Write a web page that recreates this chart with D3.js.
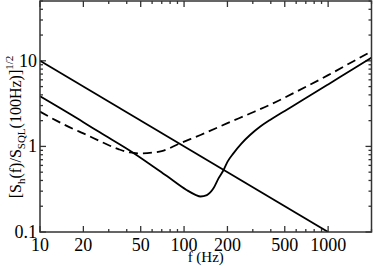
<!DOCTYPE html>
<html>
<head>
<meta charset="utf-8">
<script src="https://cdn.jsdelivr.net/npm/d3@7"></script>
<style>
  body { margin: 0; background: #fff; }
  svg { display: block; font-family: "Liberation Serif", "DejaVu Serif", serif; }
</style>
</head>
<body>
<svg id="chart" width="374" height="266"></svg>
<script>
// values: [f (Hz), amplitude]
var sql_line = [[10, 10], [1000, 0.1]];

var dip_f = [10, 20, 26, 44.5, 76, 104, 120, 130, 144, 152, 160, 173, 188, 200, 220, 250, 287, 340, 395, 500, 640, 1000, 1500, 2000];
var dip_v = [3.85, 1.92, 1.46, 0.84, 0.45, 0.31, 0.272, 0.26, 0.27, 0.29, 0.324, 0.42, 0.53, 0.66, 0.83, 1.08, 1.36, 1.72, 2.04, 2.6, 3.34, 5.3, 8.1, 10.9];

var dash_f = [10, 13, 17, 20, 27, 35, 42, 50, 60, 70, 94, 130, 200, 290, 400, 600, 1000, 1500, 2000];
var dash_v = [2.55, 2.0, 1.6, 1.42, 1.12, 0.93, 0.85, 0.83, 0.845, 0.88, 1.09, 1.36, 1.87, 2.44, 3.1, 4.35, 6.8, 9.9, 12.9];

var x_ticks = [10, 20, 50, 100, 200, 500, 1000];
var y_ticks = [0.1, 1, 10];

draw_chart();

function draw_chart(){
    var padding = {top: 1, left: 40, right: 2.5, bottom: 34};
    var width = 374, height = 266;
    var svg = d3.select('#chart');

    var x_scale = d3.scaleLog()
        .domain([10, 2000])
        .range([padding.left, width - padding.right]);
    var y_scale = d3.scaleLog()
        .domain([0.1, 50])
        .range([height - padding.bottom, padding.top]);

    var x0 = padding.left, x1 = width - padding.right;
    var y0 = height - padding.bottom, y1 = padding.top;

    // minor ticks: 2..9 in each decade
    var x_minor = [], y_minor = [];
    [10, 100, 1000].forEach(function(d){
        for (var k = 2; k < 10; k++) {
            var v = d * k;
            if (v <= 2000 && x_ticks.indexOf(v) < 0) x_minor.push(v);
        }
    });
    [0.1, 1, 10].forEach(function(d){
        for (var k = 2; k < 10; k++) {
            var v = +(d * k).toFixed(3);
            if (v <= 50) y_minor.push(v);
        }
    });

    var axis_color = '#333';
    var ticks = svg.append('g').attr('stroke', axis_color).attr('stroke-width', 1.3);

    function x_tick(v, len){
        var x = x_scale(v);
        ticks.append('line').attr('x1', x).attr('x2', x).attr('y1', y0).attr('y2', y0 - len);
        ticks.append('line').attr('x1', x).attr('x2', x).attr('y1', y1).attr('y2', y1 + len);
    }
    function y_tick(v, len){
        var y = y_scale(v);
        ticks.append('line').attr('x1', x0).attr('x2', x0 + len).attr('y1', y).attr('y2', y);
        ticks.append('line').attr('x1', x1).attr('x2', x1 - len).attr('y1', y).attr('y2', y);
    }
    x_ticks.forEach(function(v){ x_tick(v, 6); });
    x_minor.forEach(function(v){ x_tick(v, 3); });
    y_ticks.forEach(function(v){ y_tick(v, 6); });
    y_minor.forEach(function(v){ y_tick(v, 3); });

    // curves
    svg.append('clipPath').attr('id', 'clip')
        .append('rect').attr('x', x0).attr('y', y1).attr('width', x1 - x0).attr('height', y0 - y1);

    var line = d3.line()
        .x(function(d){ return x_scale(d[0]); })
        .y(function(d){ return y_scale(d[1]); })
        .curve(d3.curveMonotoneX);

    var plot_area = svg.append('g').attr('clip-path', 'url(#clip)')
        .attr('fill', 'none').attr('stroke', '#000').attr('stroke-width', 1.8);

    plot_area.append('path').attr('d', line(sql_line));
    plot_area.append('path').attr('d', line(d3.zip(dip_f, dip_v)));
    plot_area.append('path').attr('d', line(d3.zip(dash_f, dash_v)))
        .attr('stroke-dasharray', '9,5');

    // frame
    svg.append('rect')
        .attr('x', x0).attr('y', y1).attr('width', x1 - x0).attr('height', y0 - y1)
        .attr('fill', 'none').attr('stroke', axis_color).attr('stroke-width', 1.5);

    // tick labels
    svg.append('g').selectAll('text').data(x_ticks).enter().append('text')
        .attr('x', function(d){ return x_scale(d); })
        .attr('y', y0 + 19)
        .attr('text-anchor', 'middle')
        .attr('font-size', 18)
        .text(function(d){ return d; });

    svg.append('g').selectAll('text').data(y_ticks).enter().append('text')
        .attr('x', x0 - 3)
        .attr('y', function(d){ return y_scale(d); })
        .attr('dy', '0.33em')
        .attr('text-anchor', 'end')
        .attr('font-size', 18)
        .text(function(d){ return d; });

    // axis titles
    svg.append('text')
        .attr('x', (x0 + x1) / 2)
        .attr('y', 262)
        .attr('text-anchor', 'middle')
        .attr('font-size', 15)
        .text('f (Hz)');

    var ylab = svg.append('text')
        .attr('transform', 'translate(21,' + 127 + ') rotate(-90)')
        .attr('text-anchor', 'middle')
        .attr('font-size', 16);
    ylab.append('tspan').text('[S');
    ylab.append('tspan').attr('font-size', 11).attr('dy', 4).text('h');
    ylab.append('tspan').attr('dy', -4).text('(f)/S');
    ylab.append('tspan').attr('font-size', 11).attr('dy', 4).text('SQL');
    ylab.append('tspan').attr('dy', -4).text('(100Hz)]');
    ylab.append('tspan').attr('font-size', 11).attr('dy', -8).text('1/2');
}
</script>
</body>
</html>
